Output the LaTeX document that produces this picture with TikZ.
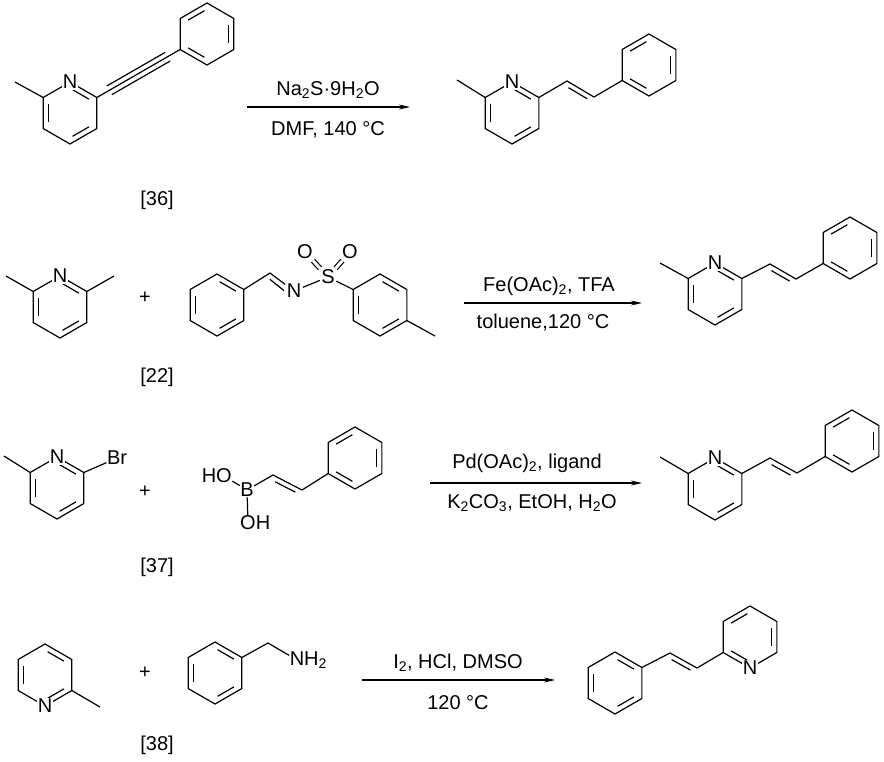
\documentclass[tikz,border=0pt]{standalone}
\usepackage{fontspec}
\setmainfont{Liberation Sans}
\usetikzlibrary{calc,arrows.meta}

% ring of six named corners, corner 1 on top
\newcommand\ring[3]{%
  \foreach \k in {1,...,6}{\coordinate (#1\k) at ($(#2,#3)+(-150+60*\k:31)$);}
  \coordinate (#1c) at (#2,#3);
  \draw (#11)--(#12)--(#13)--(#14)--(#15)--(#16)--cycle;}
% inner line of a ring double bond
\newcommand\inb[3]{\draw[shorten <=3pt,shorten >=3pt] ($(#1#2)!0.2!(#1c)$) -- ($(#1#3)!0.2!(#1c)$);}
% second line of a chain double bond, below the first
\newcommand\dbl[2]{\draw ($(#1)!0.15!(#2)!5pt!-90:(#2)$) -- ($(#2)!0.15!(#1)!5pt!90:(#1)$);}
\newcommand\dblup[2]{\draw ($(#1)!0.15!(#2)!5pt!90:(#2)$) -- ($(#2)!0.15!(#1)!5pt!-90:(#1)$);}

\tikzset{
  atom/.style={fill=white,inner sep=1pt},
  lbl/.style={inner sep=0pt},
  rxn/.style={-{Stealth[length=11pt,width=5pt]}}
}

\begin{document}
\begin{tikzpicture}[x=1pt,y=-1pt,line width=1.2pt,font=\fontsize{20}{24}\selectfont]
\useasboundingbox (0,0) rectangle (884,761);

% row 1
\ring{a}{70}{113}
\inb{a}{1}{2} \inb{a}{3}{4} \inb{a}{5}{6}
\coordinate (ame) at (15,82);
\draw (a6) -- (ame);
\ring{b}{207}{34}
\inb{b}{6}{1} \inb{b}{2}{3} \inb{b}{4}{5}
\draw (a2) -- (b5);
\dbl{a2}{b5} \dblup{a2}{b5}
\node[atom] (aN) at (a1) {N};
\coordinate (r1s) at (247,107);
\coordinate (r1e) at (410,107);
\draw[rxn] (r1s) -- (r1e);
\node[lbl] (r1t) at (328,90) {Na\textsubscript{2}S·9H\textsubscript{2}O};
\node[lbl] (r1b) at (328,130) {DMF, 140 °C};
\ring{p}{512}{113}
\inb{p}{1}{2} \inb{p}{3}{4} \inb{p}{5}{6}
\coordinate (pme) at (457,80);
\coordinate (pv1) at (567,81);
\coordinate (pv2) at (594,97);
\ring{q}{649}{65}
\inb{q}{6}{1} \inb{q}{2}{3} \inb{q}{4}{5}
\draw (pme) -- (p6) (p2) -- (pv1) -- (pv2) -- (q5);
\dbl{pv1}{pv2}
\node[atom] (pN) at (p1) {N};
\node[lbl] (ref1) at (157,200) {[36]};

% row 2
\ring{c}{60}{307}
\inb{c}{1}{2} \inb{c}{3}{4} \inb{c}{5}{6}
\coordinate (cme1) at (6,276);
\coordinate (cme2) at (114,276);
\draw (cme1) -- (c6) (c2) -- (cme2);
\node[atom] (cN) at (c1) {N};
\node[lbl] (plus2) at (145,298) {+};
\ring{d}{217}{305}
\inb{d}{5}{6} \inb{d}{1}{2} \inb{d}{3}{4}
\coordinate (dch) at (270,273);
\node[atom] (dN) at (294,291) {N};
\node[atom] (dS) at (328,277) {S};
\node[atom] (dO1) at (305,252) {O};
\node[atom] (dO2) at (350,252) {O};
\ring{e}{380}{305}
\inb{e}{5}{6} \inb{e}{1}{2} \inb{e}{3}{4}
\coordinate (eme) at (435,336);
\draw (d2) -- (dch) -- (dN) (dN) -- (dS) (dS) -- (e6) (e3) -- (eme);
\draw[double,double distance=3pt] (dS) -- (dO1) (dS) -- (dO2);
\coordinate (dNc) at (290,289);
\dbl{dch}{dNc}
\coordinate (r2s) at (464,303);
\coordinate (r2e) at (642,303);
\draw[rxn] (r2s) -- (r2e);
\node[lbl] (r2t) at (549,286) {Fe(OAc)\textsubscript{2}, TFA};
\node[lbl] (r2b) at (543,323) {toluene,120 °C};
\ring{f}{715}{294}
\inb{f}{1}{2} \inb{f}{3}{4} \inb{f}{5}{6}
\coordinate (fme) at (660,263);
\coordinate (fv1) at (770,264);
\coordinate (fv2) at (796,279);
\ring{g}{850}{248}
\inb{g}{6}{1} \inb{g}{2}{3} \inb{g}{4}{5}
\draw (fme) -- (f6) (f2) -- (fv1) -- (fv2) -- (g5);
\dbl{fv1}{fv2}
\node[atom] (fN) at (f1) {N};
\node[lbl] (ref2) at (157,377) {[22]};

% row 3
\ring{h}{57}{488}
\inb{h}{1}{2} \inb{h}{3}{4} \inb{h}{5}{6}
\coordinate (hme) at (4,456);
\node[lbl] (hBr) at (117,458) {Br};
\draw (hme) -- (h6) (h2) -- (hBr);
\node[atom] (hN) at (h1) {N};
\node[lbl] (plus3) at (145,492) {+};
\node[lbl] (kB) at (247,490) {B};
\node[lbl] (kO1) at (224,476) {\llap{H}O};
\node[lbl] (kO2) at (248,523) {O\rlap{H}};
\coordinate (kv1) at (273,475);
\coordinate (kv2) at (302,490);
\ring{k}{355}{458}
\inb{k}{6}{1} \inb{k}{2}{3} \inb{k}{4}{5}
\draw (kO1) -- (kB) (kB) -- (kO2) (kB) -- (kv1) -- (kv2) -- (k5);
\dbl{kv1}{kv2}
\coordinate (r3s) at (430,483);
\coordinate (r3e) at (642,483);
\draw[rxn] (r3s) -- (r3e);
\node[lbl] (r3t) at (527,463) {Pd(OAc)\textsubscript{2}, ligand};
\node[lbl] (r3b) at (532,503) {K\textsubscript{2}CO\textsubscript{3}, EtOH, H\textsubscript{2}O};
\ring{m}{715}{489}
\inb{m}{1}{2} \inb{m}{3}{4} \inb{m}{5}{6}
\coordinate (mme) at (660,457);
\coordinate (mv1) at (770,458);
\coordinate (mv2) at (797,473);
\ring{n}{852}{441}
\inb{n}{6}{1} \inb{n}{2}{3} \inb{n}{4}{5}
\draw (mme) -- (m6) (m2) -- (mv1) -- (mv2) -- (n5);
\dbl{mv1}{mv2}
\node[atom] (mN) at (m1) {N};
\node[lbl] (ref3) at (157,567) {[37]};

% row 4
\ring{r}{45}{675}
\inb{r}{5}{6} \inb{r}{1}{2} \inb{r}{3}{4}
\coordinate (rme) at (100,707);
\draw (r3) -- (rme);
\node[atom] (rN) at (r4) {N};
\node[lbl] (plus4) at (145,673) {+};
\ring{s}{215}{673}
\inb{s}{5}{6} \inb{s}{1}{2} \inb{s}{3}{4}
\coordinate (sch) at (268,643);
\node[lbl] (sN) at (297,660) {N\rlap{H\textsubscript{2}}};
\draw (s2) -- (sch) -- (sN);
\coordinate (r4s) at (362,680);
\coordinate (r4e) at (555,680);
\draw[rxn] (r4s) -- (r4e);
\node[lbl] (r4t) at (458,663) {I\textsubscript{2}, HCl, DMSO};
\node[lbl] (r4b) at (458,703) {120 °C};
\ring{t}{615}{683}
\inb{t}{5}{6} \inb{t}{1}{2} \inb{t}{3}{4}
\coordinate (tv1) at (670,653);
\coordinate (tv2) at (697,668);
\ring{u}{750}{637}
\inb{u}{6}{1} \inb{u}{2}{3} \inb{u}{4}{5}
\draw (t2) -- (tv1) -- (tv2) -- (u5);
\dbl{tv1}{tv2}
\node[atom] (uN) at (u4) {N};
\node[lbl] (ref4) at (157,745) {[38]};
\end{tikzpicture}
\end{document}
